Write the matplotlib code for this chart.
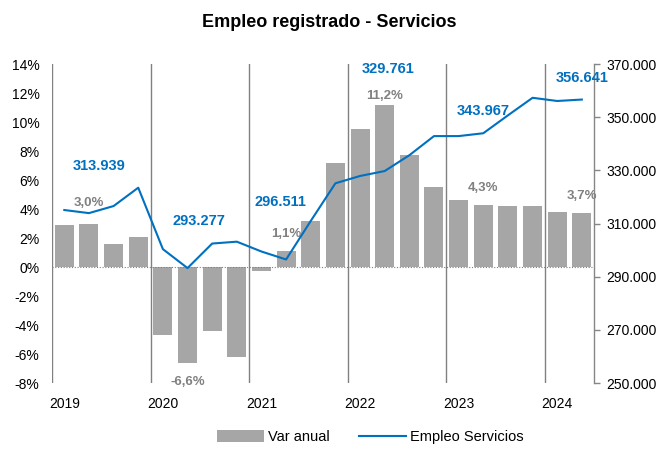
import numpy as np
import matplotlib
matplotlib.use("Agg")
import matplotlib.pyplot as plt
from matplotlib.ticker import FuncFormatter

plt.rcParams['font.family'] = ['Liberation Sans', 'DejaVu Sans']

# quarterly data 2019Q1 .. 2024Q2
var_anual = [2.9, 3.0, 1.6, 2.1, -4.7, -6.6, -4.4, -6.2, -0.3, 1.1, 3.2,
             7.2, 9.5, 11.2, 7.7, 5.5, 4.6, 4.3, 4.2, 4.2, 3.8, 3.7]
empleo = [315100, 313939, 316600, 323500, 300400, 293277, 302500, 303200,
          299500, 296511, 311000, 325150, 327900, 329761, 335700, 342900,
          342900, 343967, 350700, 357300, 356100, 356641]
years = ['2019', '2020', '2021', '2022', '2023', '2024']

# labelled points
bar_lab_idx = [1, 5, 9, 13, 17, 21]
bar_lab_off = [21, -19, 17, 9, 17, 17]
line_lab_idx = [1, 5, 9, 13, 17, 21]
line_lab_off = [(10, 47), (11, 47), (-6, 57), (3, 102), (0, 22), (0, 22)]

grey = '#A6A6A6'
blue = '#0070C0'
lab_grey = '#808080'

x = np.arange(len(var_anual))

fig = plt.figure(figsize=(6.58, 4.54), dpi=100)
ax = fig.add_axes([0.079, 0.156, 0.824, 0.703])
ax2 = ax.twinx()

bars = ax.bar(x, var_anual, width=0.77, color=grey, label='Var anual', zorder=2)
ax.set_xlim(-0.5, len(x) - 0.5)
ax.set_ylim(-8, 14)
ax.set_yticks(np.arange(-8, 15, 2))
ax.yaxis.set_major_formatter(FuncFormatter(lambda v, p: '%d%%' % v))
ax.axhline(0, color='#808080', lw=0.8, ls=(0, (1, 1.5)), zorder=3)
for b in np.arange(-0.5, len(x), 4):
    ax.axvline(b, color='#808080', lw=1.0, zorder=1)

ax.set_xticks(np.arange(0, len(x), 4))
ax.set_xticklabels(years)
ax.tick_params(axis='x', length=0, pad=10, labelsize=10)
ax.tick_params(axis='y', length=0, pad=9, labelsize=10)
for s in ax.spines.values():
    s.set_visible(False)

ln, = ax2.plot(x, empleo, color=blue, lw=1.5, label='Empleo Servicios', zorder=4)
ax2.set_ylim(250000, 370000)
ax2.set_yticks(np.arange(250000, 370001, 20000))
ax2.yaxis.set_major_formatter(FuncFormatter(lambda v, p: '{:,.0f}'.format(v).replace(',', '.')))
ax2.tick_params(axis='y', length=4, width=1, color='#868686', pad=5, labelsize=10)
for k, s in ax2.spines.items():
    s.set_visible(k == 'right')
ax2.spines['right'].set_color('#868686')
ax2.spines['right'].set_linewidth(1.0)

for i, off in zip(bar_lab_idx, bar_lab_off):
    v = var_anual[i]
    ax.annotate(('%.1f%%' % v).replace('.', ','), (x[i], v), xytext=(0, off),
                textcoords='offset pixels', ha='center', va='center',
                fontsize=9.5, fontweight='bold', color=lab_grey, zorder=5)

for i, (dx, dy) in zip(line_lab_idx, line_lab_off):
    v = empleo[i]
    ax2.annotate('{:,.0f}'.format(v).replace(',', '.'), (x[i], v), xytext=(dx, dy),
                 textcoords='offset pixels', ha='center', va='center',
                 fontsize=10.5, fontweight='bold', color=blue, zorder=5)

fig.suptitle('Empleo registrado - Servicios', x=0.5, y=0.97, fontsize=13, fontweight='bold')
fig.legend([bars, ln], ['Var anual', 'Empleo Servicios'], loc='center',
           bbox_to_anchor=(0.563, 0.037), ncol=2, frameon=False, fontsize=10.5,
           handlelength=3.2, handleheight=0.9, columnspacing=2.0, handletextpad=0.3)

fig.savefig('out.png', dpi=100)
